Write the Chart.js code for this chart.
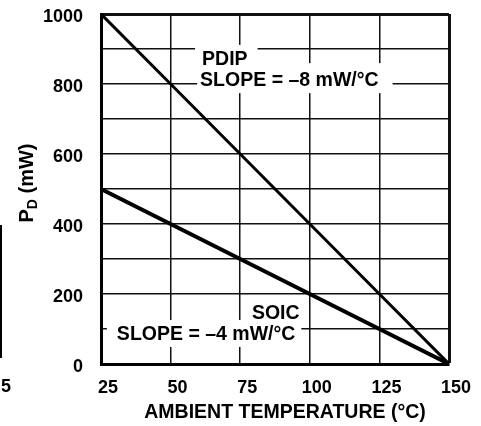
<!DOCTYPE html>
<html>
<head>
<meta charset="utf-8">
<script src="https://cdn.jsdelivr.net/npm/chart.js@4.4.0/dist/chart.umd.min.js"></script>
<style>
  html, body { margin: 0; padding: 0; background: #fff; }
  canvas { display: block; }
</style>
</head>
<body>
<canvas id="chart" width="481" height="426"></canvas>
<script>
// Power dissipation derating: PD (mW) vs ambient temperature (°C)
const temps = [25, 50, 75, 100, 125, 150];
const pdipPower = [1000, 800, 600, 400, 200, 0];
const soicPower = [500, 400, 300, 200, 100, 0];
const yLabelValues = [0, 200, 400, 600, 800, 1000];

const pdipNote = ['PDIP', 'SLOPE = \u20138 mW/\u00B0C'];
const soicNote = ['SOIC', 'SLOPE = \u20134 mW/\u00B0C'];

const FONT = "'Liberation Sans', Arial, Helvetica, sans-serif";

// Notes sit on white boxes that break the grid (data units + box pads in px)
const notes = [
    { text: pdipNote[0], x: 61.3, y: 869, pad: [7, 10, 15, 5] },
    { text: pdipNote[1], x: 60.6, y: 811, pad: [3, 14, 17, 13] },
    { text: soicNote[0], x: 79.2, y: 143, pad: [7, 3, 16, 6] },
    { text: soicNote[1], x: 30.7, y: 83, pad: [10, 6, 15, 12] }
];

const decorations = {
    id: 'decorations',
    beforeDatasetsDraw(chart) {
        const ctx = chart.ctx;
        const xs = chart.scales.x, ys = chart.scales.y;
        ctx.save();
        ctx.font = 'bold 19.5px ' + FONT;
        ctx.textBaseline = 'middle';
        ctx.textAlign = 'left';
        notes.forEach(n => {
            const px = xs.getPixelForValue(n.x);
            const py = ys.getPixelForValue(n.y);
            const w = ctx.measureText(n.text).width;
            ctx.fillStyle = '#fff';
            ctx.fillRect(px - n.pad[0], py - n.pad[2], w + n.pad[0] + n.pad[1], n.pad[2] + n.pad[3]);
        });
        ctx.fillStyle = '#000';
        notes.forEach(n => {
            ctx.fillText(n.text, xs.getPixelForValue(n.x), ys.getPixelForValue(n.y));
        });
        ctx.restore();
    },
    afterDraw(chart) {
        const ctx = chart.ctx;
        const area = chart.chartArea;
        ctx.save();
        ctx.fillStyle = '#000';

        // x axis title
        ctx.font = 'bold 19.5px ' + FONT;
        ctx.textAlign = 'center';
        ctx.textBaseline = 'middle';
        ctx.fillText('AMBIENT TEMPERATURE (\u00B0C)', (area.left + area.right) / 2 + 10, 413);

        // y axis title with subscript
        ctx.translate(26, 183);
        ctx.rotate(-Math.PI / 2);
        ctx.textAlign = 'left';
        ctx.textBaseline = 'alphabetic';
        const big = 'bold 20px ' + FONT, small = 'bold 14px ' + FONT;
        ctx.font = big;
        const wP = ctx.measureText('P').width;
        const wRest = ctx.measureText(' (mW)').width;
        ctx.font = small;
        const wD = ctx.measureText('D').width;
        let x0 = -(wP + wD + wRest) / 2;
        ctx.font = big;
        ctx.fillText('P', x0, 7);
        ctx.font = small;
        ctx.fillText('D', x0 + wP, 11);
        ctx.font = big;
        ctx.fillText(' (mW)', x0 + wP + wD, 7);
        ctx.restore();

        // clipped neighbour figure at the left edge of the scan
        ctx.save();
        ctx.fillStyle = '#000';
        ctx.font = 'bold 18px ' + FONT;
        ctx.textBaseline = 'middle';
        ctx.fillText('5', 1, 387);
        ctx.strokeStyle = '#000';
        ctx.lineWidth = 2;
        ctx.beginPath();
        ctx.moveTo(1, 225);
        ctx.lineTo(1, 358);
        ctx.stroke();
        ctx.restore();
    }
};

new Chart(document.getElementById('chart'), {
    type: 'scatter',
    data: {
        datasets: [
            {
                label: 'PDIP',
                data: temps.map((t, i) => ({ x: t, y: pdipPower[i] })),
                showLine: true,
                borderColor: '#000',
                borderWidth: 3,
                pointRadius: 0
            },
            {
                label: 'SOIC',
                data: temps.map((t, i) => ({ x: t, y: soicPower[i] })),
                showLine: true,
                borderColor: '#000',
                borderWidth: 4,
                pointRadius: 0
            }
        ]
    },
    options: {
        responsive: false,
        animation: false,
        layout: { padding: { left: 0, top: 14, right: 32, bottom: 0 } },
        plugins: {
            legend: { display: false },
            tooltip: { enabled: false }
        },
        scales: {
            x: {
                type: 'linear',
                min: 25,
                max: 150,
                afterFit(scale) {
                    scale.height = 62;
                    scale.paddingLeft = 0;
                    scale.paddingRight = 0;
                },
                ticks: {
                    stepSize: 25,
                    autoSkip: false,
                    maxRotation: 0,
                    padding: 13,
                    labelOffset: 7,
                    color: '#000',
                    font: { family: FONT, size: 18, weight: 'bold' }
                },
                grid: {
                    drawTicks: false,
                    color: '#111',
                    lineWidth: c => (c.tick && c.tick.value === 150) ? 3 : 1.5
                },
                border: { display: true, color: '#000', width: 3 }
            },
            y: {
                min: 0,
                max: 1000,
                afterFit(scale) {
                    scale.width = 101;
                    scale.paddingTop = 0;
                    scale.paddingBottom = 0;
                },
                ticks: {
                    stepSize: 100,
                    padding: 18,
                    labelOffset: 3,
                    color: '#000',
                    font: { family: FONT, size: 18, weight: 'bold' },
                    callback: v => yLabelValues.includes(v) ? String(v) : ''
                },
                grid: {
                    drawTicks: false,
                    color: '#111',
                    lineWidth: c => (c.tick && c.tick.value === 1000) ? 3 : 1.5
                },
                border: { display: true, color: '#000', width: 3 }
            }
        }
    },
    plugins: [decorations]
});
</script>
</body>
</html>
